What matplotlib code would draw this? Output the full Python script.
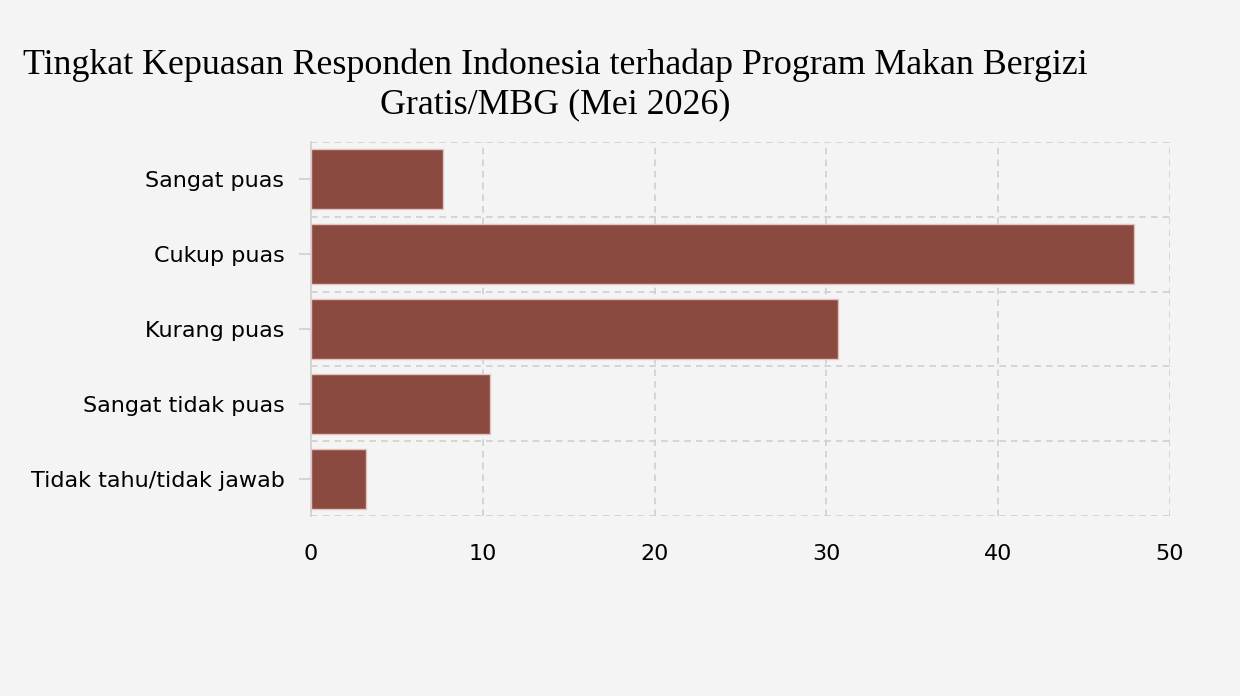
import numpy as np
import matplotlib.pyplot as plt

plt.rcParams['font.family'] = ['DejaVu Sans']

# Data
categories = ['Sangat puas', 'Cukup puas', 'Kurang puas', 'Sangat tidak puas', 'Tidak tahu/tidak jawab']
values = [7.7, 47.9, 30.7, 10.4, 3.2]
xticks = [0, 10, 20, 30, 40, 50]

bg = '#f4f4f4'
bar_color = '#8b4a3f'
grid_color = '#cfcfcf'

fig = plt.figure(figsize=(12.4, 6.96), dpi=100, facecolor=bg)
ax = fig.add_axes([311 / 1240, 1 - 516 / 696, (1170 - 311) / 1240, (516 - 142) / 696])
ax.set_facecolor(bg)

y = np.arange(len(categories))
ax.barh(y, values, height=0.8, color=bar_color, edgecolor='#e3c3bf', linewidth=1, zorder=3)

ax.set_xlim(0, 50)
ax.set_ylim(len(categories) - 0.5, -0.5)
ax.set_xticks(xticks)
ax.set_xticklabels([str(t) for t in xticks])
ax.set_yticks(y)
ax.set_yticklabels(categories)

# grid: vertical at ticks, horizontal between categories
for t in xticks[1:]:
    ax.axvline(t, color=grid_color, linestyle=(0, (4, 3)), linewidth=1.2, zorder=1)
for b in np.arange(-0.5, len(categories), 1.0):
    ax.axhline(b, color=grid_color, linestyle=(0, (4, 3)), linewidth=1.2, zorder=1)

for s in ['top', 'right', 'bottom']:
    ax.spines[s].set_visible(False)
ax.spines['left'].set_color(grid_color)
ax.spines['left'].set_linewidth(1.2)

ax.tick_params(axis='y', length=8.6, color=grid_color, width=1.2, labelsize=16, pad=10.5)
ax.tick_params(axis='x', length=0, labelsize=16, pad=20)

fig.text(555 / 1240, 1 - 85 / 696,
         'Tingkat Kepuasan Responden Indonesia terhadap Program Makan Bergizi\nGratis/MBG (Mei 2026)',
         ha='center', va='center', fontsize=25.8, family='Liberation Serif', linespacing=1.22)

fig.savefig('out.png', dpi=100, facecolor=bg)
